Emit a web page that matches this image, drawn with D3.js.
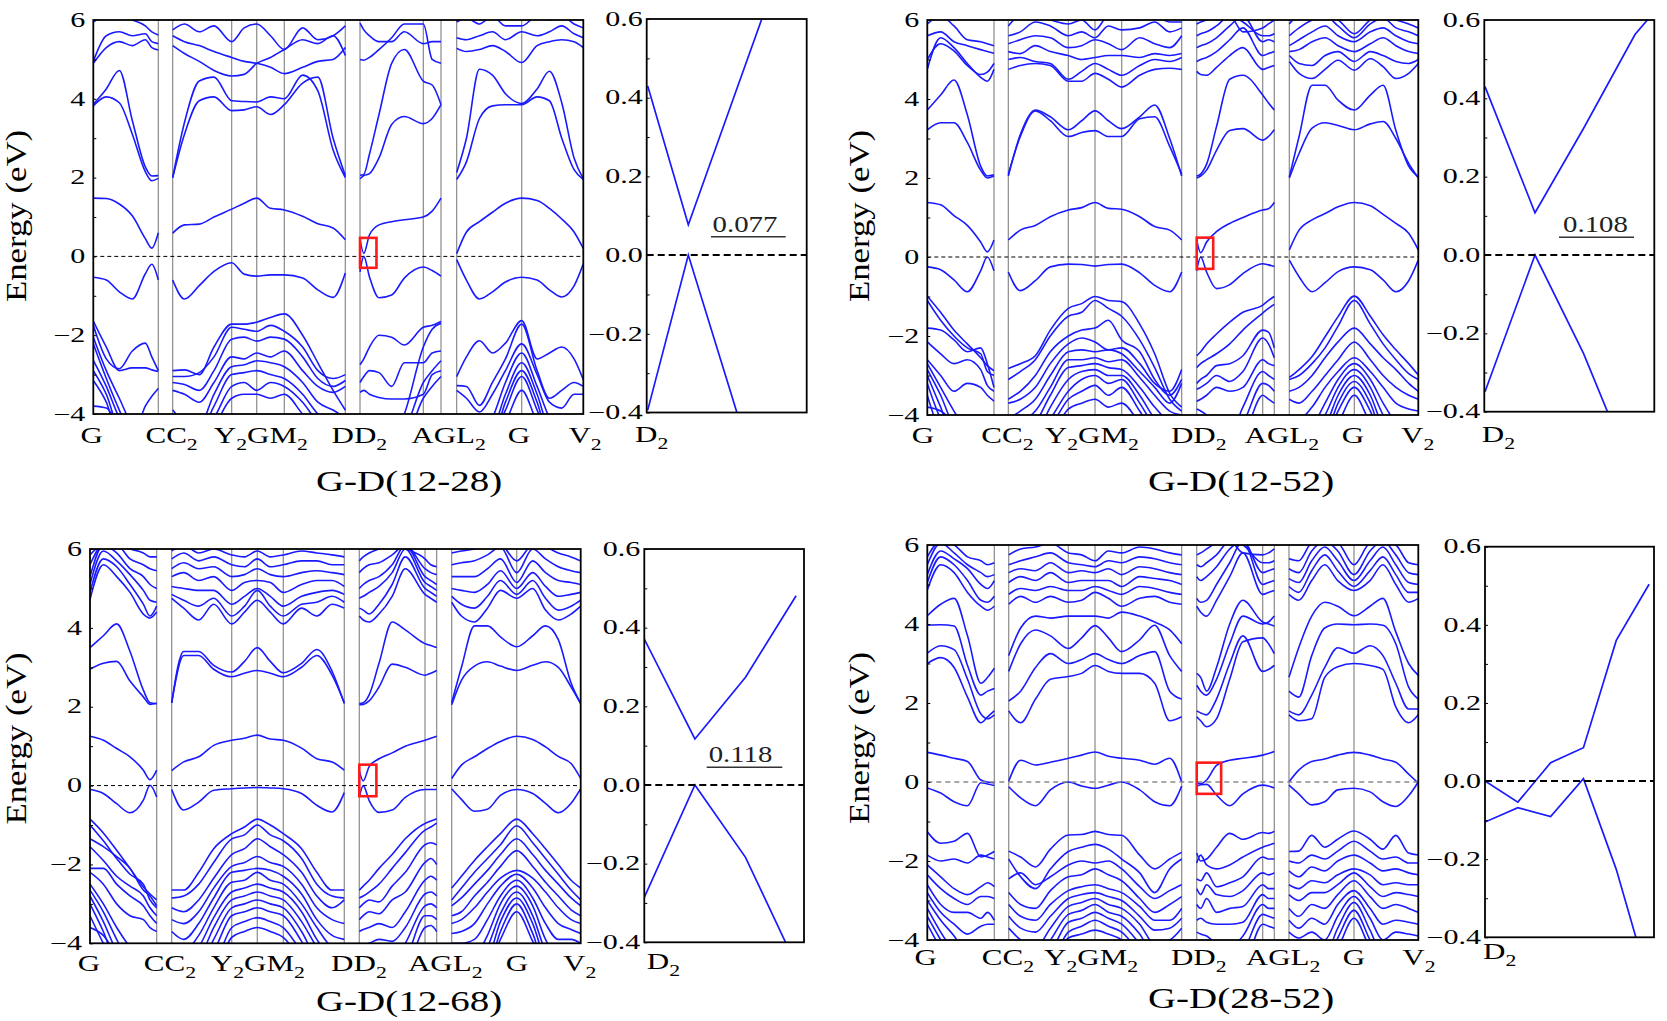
<!DOCTYPE html>
<html><head><meta charset="utf-8">
<script src="https://cdnjs.cloudflare.com/ajax/libs/d3/7.8.5/d3.min.js"></script>
<style>
html,body{margin:0;padding:0;background:#fff;}
svg{display:block;}
text{font-family:"Liberation Serif","DejaVu Serif",serif;fill:#000;}
</style></head>
<body><svg id="chart" width="1667" height="1021"></svg>
<script>
// ---------------- DATA ----------------
const titles = ["G-D(12-28)", "G-D(12-52)", "G-D(12-68)", "G-D(28-52)"];
const kLabels = ["G", "CC_2", "Y_2GM_2", "DD_2", "AGL_2", "G", "V_2"];
const gapValues = ["0.077", "0.108", "0.118", null];
const energyTicks = [-4, -3, -2, -1, 0, 1, 2, 3, 4, 5, 6];
const insetTicks = [-0.4, -0.3, -0.2, -0.1, 0, 0.1, 0.2, 0.3, 0.4, 0.5, 0.6];

// k-path distances of high-symmetry points (G C C2 Y2 G M2 D D2 A G L2 G V2)
const kPath1 = [0, 0.1327, 0.1620, 0.2824, 0.3335, 0.3898, 0.5143, 0.5443, 0.6735, 0.7096, 0.7416, 0.8743, 1];
const kPath2 = [0, 0.1358, 0.1650, 0.2872, 0.3416, 0.3959, 0.5181, 0.5487, 0.6831, 0.7067, 0.7373, 0.8697, 1];
const kPath3 = [0, 0.1359, 0.1665, 0.2888, 0.3409, 0.3939, 0.5182, 0.5488, 0.6827, 0.7065, 0.7371, 0.8696, 1];
const kPath4 = [0, 0.1365, 0.1658, 0.2872, 0.3416, 0.3959, 0.5181, 0.5487, 0.6831, 0.7067, 0.7366, 0.8690, 1];
const labelK1 = [-0.0035, 0.1598, 0.342, 0.543, 0.725, 0.8688, 1.0035];
const labelK2 = [-0.0088, 0.1633, 0.3351, 0.5528, 0.722, 0.867, 0.9986];
const labelK3 = [-0.002, 0.163, 0.342, 0.548, 0.724, 0.870, 0.998];
const labelK4 = [-0.003, 0.1643, 0.3336, 0.5528, 0.7246, 0.869, 1.0014];

// sampling positions along the path (in units of high-symmetry point index)
const gridA = [0, 0.2, 0.4, 0.6, 0.8, 0.9, 1];
const gridB = [2, 2.2, 2.45, 2.7, 3, 3.5, 4, 4.5, 5, 5.3, 5.55, 5.8, 6];
const gridC = [7, 7.06, 7.15, 7.3, 7.5, 7.7, 8, 8.5, 9];
const gridD = [10, 10.15, 10.35, 10.55, 10.75, 11, 11.25, 11.45, 11.65, 11.85, 12];

// ---- Panel 1: G-D(12-28) ----
const p1A = [
 [1.48, 1.47, 1.33, 1.03, 0.45, 0.21, 0.6],
 [-0.53, -0.6, -0.9, -1.08, -0.44, -0.2, -0.6],
 [3.86, 4.25, 4.72, 3.45, 2.27, 2.04, 2.05],
 [3.82, 4.05, 3.9, 3.1, 2.15, 1.92, 1.98],
 [4.95, 5.6, 5.7, 5.6, 5.65, 5.45, 5.4],
 [4.9, 5.3, 5.45, 5.35, 5.5, 5.3, 5.24],
 [5.95, 6.1, 6.1, 6.0, 5.85, 5.7, 5.62],
 [-1.64, -2.3, -2.9, -2.83, -2.83, -2.88, -2.92],
 [-1.75, -2.6, -2.85, -2.4, -2.2, -2.55, -2.9],
 [-2.05, -2.9, -3.6, -4.3, -4.6, -4.6, -4.6],
 [-2.22, -3.1, -3.9, -4.6, -4.6, -4.6, -4.6],
 [-2.64, -3.3, -4.1, -4.6, -4.6, -4.6, -4.6],
 [-2.9, -3.5, -4.4, -4.6, -4.6, -4.6, -4.6],
 [-3.15, -3.7, -4.6, -4.6, -4.6, -4.6, -4.6],
 [-3.8, -3.85, -4.3, -4.6, -4.6, -4.6, -4.6],
 [-4.6, -4.6, -4.6, -4.6, -3.8, -3.55, -3.35]
];
const p1B = [
 [0.59, 0.8, 0.82, 1.0, 1.2, 1.35, 1.48, 1.22, 1.18, 1.02, 0.83, 0.72, 0.42],
 [-0.6, -1.08, -0.74, -0.38, -0.16, -0.45, -0.5, -0.47, -0.47, -0.55, -0.85, -1.04, -0.42],
 [2.0, 3.4, 4.45, 4.55, 3.95, 3.93, 3.92, 4.05, 4.0, 4.6, 4.2, 2.7, 2.0],
 [2.0, 3.1, 3.95, 4.05, 3.7, 3.72, 3.8, 3.6, 3.85, 4.4, 4.55, 3.0, 2.05],
 [5.35, 5.15, 4.95, 4.72, 4.58, 4.62, 4.9, 5.05, 5.25, 5.5, 5.4, 5.6, 5.1],
 [5.6, 5.45, 5.35, 5.2, 5.05, 4.95, 4.9, 4.8, 4.64, 4.8, 4.95, 5.0, 5.3],
 [5.75, 5.9, 5.7, 5.85, 5.45, 5.8, 5.9, 5.6, 5.25, 5.8, 5.5, 5.6, 5.85],
 [-2.9, -2.88, -3.0, -2.3, -1.72, -1.72, -1.67, -1.55, -1.46, -2.0, -2.7, -3.4, -3.9],
 [-3.05, -3.05, -2.95, -2.55, -1.8, -1.85, -1.9, -1.75, -1.9, -2.3, -2.9, -3.1, -3.0],
 [-3.2, -3.25, -3.4, -2.9, -2.1, -2.05, -2.15, -2.05, -2.1, -2.55, -3.1, -3.3, -3.15],
 [-3.4, -3.5, -3.7, -3.2, -2.55, -2.6, -2.45, -2.55, -2.4, -2.9, -3.3, -3.45, -3.3],
 [-3.9, -4.2, -4.3, -3.5, -2.8, -2.75, -2.65, -2.7, -2.8, -3.2, -3.7, -3.9, -4.1],
 [-4.3, -4.4, -4.5, -3.8, -3.0, -2.95, -2.9, -3.0, -3.1, -3.5, -4.0, -4.3, -4.5],
 [-4.5, -4.5, -4.5, -4.1, -3.3, -3.2, -3.4, -3.2, -3.3, -3.7, -4.2, -4.4, -4.5],
 [-4.6, -4.6, -4.6, -4.3, -3.6, -3.5, -3.5, -3.6, -3.5, -4.0, -4.4, -4.5, -4.6]
];
const p1C = [
 [0.43, 0.077, 0.55, 0.8, 0.88, 0.93, 1.0, 1.15, 1.48],
 [-0.39, 0.0, -0.52, -1.05, -0.98, -0.55, -0.27, -0.36, -0.5],
 [2.06, 2.08, 2.6, 3.6, 4.9, 5.25, 4.45, 4.35, 3.85],
 [1.97, 2.05, 2.1, 2.5, 3.35, 3.55, 3.37, 3.5, 3.85],
 [5.0, 4.98, 5.05, 5.25, 5.55, 5.9, 5.9, 5.0, 4.9],
 [5.92, 5.75, 5.6, 5.45, 5.45, 5.7, 5.4, 5.45, 5.45],
 [-2.75, -2.6, -2.3, -2.0, -2.05, -2.25, -1.8, -1.75, -1.65],
 [-3.2, -3.05, -2.9, -2.95, -3.3, -2.7, -2.7, -2.45, -2.4],
 [-3.45, -3.4, -3.5, -3.58, -3.62, -3.62, -3.5, -3.0, -2.9],
 [-4.6, -4.6, -4.6, -4.6, -4.6, -4.0, -2.3, -1.85, -1.7],
 [-4.6, -4.6, -4.6, -4.6, -4.6, -4.4, -3.2, -2.9, -2.65],
 [-4.6, -4.6, -4.6, -4.6, -4.6, -4.6, -3.6, -3.3, -3.05]
];
const p1D = [
 [0.07, 0.62, 0.88, 1.12, 1.35, 1.48, 1.42, 1.22, 0.95, 0.62, 0.2],
 [-0.08, -0.6, -1.08, -0.9, -0.65, -0.53, -0.6, -0.85, -1.03, -0.75, -0.19],
 [2.13, 3.0, 4.75, 4.6, 4.13, 3.88, 4.25, 4.7, 3.9, 2.5, 1.97],
 [1.95, 2.4, 3.5, 3.82, 3.85, 3.85, 4.05, 3.95, 3.0, 2.2, 1.95],
 [5.28, 5.2, 5.25, 5.35, 5.2, 4.92, 5.35, 5.45, 5.5, 5.45, 5.3],
 [5.55, 5.5, 5.6, 5.7, 5.5, 5.7, 5.6, 5.7, 5.85, 5.65, 5.55],
 [5.95, 6.05, 5.9, 6.1, 5.85, 5.85, 6.1, 6.0, 6.1, 5.9, 5.8],
 [-3.05, -2.55, -2.14, -2.45, -2.2, -1.63, -2.6, -2.45, -2.3, -2.6, -3.13],
 [-3.28, -3.3, -3.78, -3.2, -2.6, -1.72, -2.9, -3.6, -3.4, -3.2, -3.3],
 [-3.4, -3.6, -3.95, -3.5, -2.9, -2.22, -3.0, -3.7, -3.85, -3.5, -3.5],
 [-4.6, -4.6, -4.6, -4.1, -3.2, -2.45, -3.3, -4.1, -4.6, -4.6, -4.6],
 [-4.6, -4.6, -4.6, -4.4, -3.5, -2.7, -3.5, -4.4, -4.6, -4.6, -4.6],
 [-4.6, -4.6, -4.6, -4.6, -3.7, -2.9, -3.7, -4.6, -4.6, -4.6, -4.6],
 [-4.6, -4.6, -4.6, -4.6, -3.9, -3.05, -3.9, -4.6, -4.6, -4.6, -4.6],
 [-4.6, -4.6, -4.6, -4.6, -4.2, -3.4, -4.2, -4.6, -4.6, -4.6, -4.6]
];

// ---- Panel 2: G-D(12-52) ----
const p2A = [
 [1.38, 1.32, 1.05, 0.8, 0.38, 0.13, 0.43],
 [-0.25, -0.32, -0.58, -0.88, -0.35, 0.0, -0.35],
 [3.72, 4.1, 4.48, 3.6, 2.3, 2.05, 2.08],
 [3.22, 3.4, 3.4, 2.9, 2.2, 2.0, 2.05],
 [4.75, 5.55, 5.3, 4.9, 4.55, 4.45, 4.75],
 [5.0, 5.4, 5.22, 4.85, 4.62, 4.68, 4.9],
 [5.6, 5.7, 5.45, 5.35, 5.25, 5.2, 5.16],
 [5.9, 6.1, 5.85, 5.5, 5.45, 5.4, 5.35],
 [-0.99, -1.4, -1.85, -2.2, -2.55, -2.75, -2.88],
 [-1.1, -1.6, -2.0, -2.3, -2.45, -2.9, -3.0],
 [-1.8, -1.85, -2.1, -2.4, -2.3, -2.7, -3.3],
 [-2.15, -2.45, -2.7, -2.6, -2.85, -3.25, -3.4],
 [-2.6, -3.0, -3.4, -3.2, -3.3, -3.5, -3.65],
 [-2.7, -3.3, -3.9, -4.4, -4.6, -4.6, -4.6],
 [-2.85, -3.5, -4.3, -4.6, -4.6, -4.6, -4.6],
 [-3.0, -3.8, -4.6, -4.6, -4.6, -4.6, -4.6],
 [-3.2, -4.1, -4.6, -4.6, -4.6, -4.6, -4.6],
 [-3.5, -4.4, -4.6, -4.6, -4.6, -4.6, -4.6],
 [-3.8, -3.9, -4.2, -4.6, -4.6, -4.6, -4.6]
];
const p2B = [
 [0.43, 0.68, 0.8, 1.02, 1.19, 1.25, 1.38, 1.23, 1.21, 1.02, 0.77, 0.68, 0.43],
 [-0.38, -0.85, -0.6, -0.25, -0.18, -0.19, -0.23, -0.19, -0.18, -0.4, -0.72, -0.88, -0.38],
 [2.05, 3.1, 3.72, 3.55, 3.22, 3.45, 3.7, 3.45, 3.25, 3.55, 3.85, 3.0, 2.05],
 [2.1, 3.05, 3.7, 3.45, 3.05, 3.15, 3.2, 3.05, 3.05, 3.5, 3.55, 2.8, 2.1],
 [4.75, 4.85, 4.9, 4.85, 4.45, 4.45, 4.65, 4.5, 4.3, 4.6, 4.75, 4.78, 4.75],
 [5.0, 5.05, 4.95, 4.9, 4.5, 4.7, 4.9, 4.75, 4.6, 4.85, 5.0, 4.95, 5.05],
 [5.2, 5.15, 5.35, 5.2, 5.1, 5.0, 5.05, 5.1, 5.1, 5.05, 5.15, 5.1, 5.15],
 [5.4, 5.5, 5.6, 5.55, 5.3, 5.35, 5.5, 5.4, 5.25, 5.55, 5.4, 5.3, 5.6],
 [5.6, 5.7, 5.95, 5.85, 5.6, 5.7, 5.55, 5.85, 5.75, 5.8, 5.95, 5.7, 5.8],
 [5.85, 6.1, 6.1, 6.0, 5.9, 6.0, 5.75, 6.1, 6.0, 6.0, 6.1, 5.95, 5.95],
 [-2.82, -2.7, -2.5, -1.85, -1.3, -1.18, -1.0, -1.1, -1.13, -1.7, -2.45, -3.45, -3.8],
 [-3.1, -2.9, -2.6, -2.0, -1.5, -1.4, -1.1, -1.3, -1.5, -2.1, -2.8, -3.6, -3.9],
 [-3.6, -3.4, -3.0, -2.4, -2.0, -1.85, -1.8, -1.6, -2.1, -2.4, -3.1, -3.5, -3.1],
 [-3.7, -3.6, -3.3, -2.7, -2.2, -2.05, -2.15, -2.35, -2.3, -2.7, -3.2, -3.4, -2.85],
 [-4.1, -3.9, -3.6, -3.0, -2.4, -2.35, -2.4, -2.35, -2.45, -2.9, -3.3, -3.7, -3.2],
 [-4.4, -4.2, -3.9, -3.3, -2.6, -2.6, -2.55, -2.65, -2.6, -3.05, -3.5, -3.9, -4.0],
 [-4.6, -4.5, -4.2, -3.5, -2.8, -2.75, -2.7, -2.8, -2.85, -3.3, -3.8, -4.2, -4.4],
 [-4.6, -4.6, -4.5, -3.8, -3.1, -2.9, -2.85, -3.0, -3.0, -3.5, -4.1, -4.5, -4.6],
 [-4.6, -4.6, -4.6, -4.1, -3.4, -3.1, -3.0, -3.2, -3.1, -3.7, -4.3, -4.6, -4.6],
 [-4.6, -4.6, -4.6, -4.3, -3.6, -3.4, -3.25, -3.5, -3.3, -3.9, -4.5, -4.6, -4.6],
 [-4.6, -4.6, -4.6, -4.5, -3.85, -3.7, -3.6, -3.8, -3.7, -4.2, -4.6, -4.6, -4.6]
];
const p2C = [
 [0.43, 0.108, 0.38, 0.64, 0.85, 1.0, 1.19, 1.22, 1.38],
 [-0.35, 0.0, -0.38, -0.8, -0.7, -0.42, -0.17, -0.2, -0.24],
 [2.05, 2.1, 2.35, 3.3, 4.5, 4.6, 4.1, 3.9, 3.72],
 [2.0, 2.05, 2.2, 2.7, 3.2, 3.25, 2.96, 3.05, 3.22],
 [4.7, 4.62, 4.6, 4.8, 5.1, 5.3, 4.75, 4.8, 4.85],
 [4.95, 5.0, 5.05, 5.2, 5.5, 5.8, 5.1, 5.15, 5.2],
 [5.3, 5.35, 5.4, 5.55, 5.85, 6.1, 5.45, 5.5, 5.45],
 [5.6, 5.65, 5.7, 5.85, 6.1, 5.95, 5.6, 5.6, 5.65],
 [5.9, 5.95, 6.0, 6.1, 6.1, 5.7, 5.8, 5.9, 6.0],
 [-2.5, -2.4, -2.2, -1.95, -1.65, -1.4, -1.22, -1.1, -1.0],
 [-2.8, -2.7, -2.6, -2.45, -2.2, -1.85, -1.42, -1.3, -1.2],
 [-3.2, -3.1, -3.0, -2.75, -2.7, -2.5, -1.85, -1.9, -2.3],
 [-3.35, -3.3, -3.2, -3.0, -3.15, -2.9, -2.05, -2.2, -2.55],
 [-3.65, -3.6, -3.5, -3.3, -3.4, -3.3, -2.6, -2.7, -2.75],
 [-3.85, -3.9, -4.0, -4.3, -4.5, -3.8, -2.9, -3.0, -3.1],
 [-4.5, -4.5, -4.5, -4.5, -4.5, -4.2, -3.2, -3.25, -3.4],
 [-4.6, -4.6, -4.6, -4.6, -4.6, -4.5, -3.5, -3.6, -3.7]
];
const p2D = [
 [0.18, 0.68, 0.94, 1.1, 1.27, 1.38, 1.3, 1.08, 0.85, 0.6, 0.18],
 [-0.08, -0.5, -0.88, -0.65, -0.37, -0.25, -0.32, -0.58, -0.88, -0.6, -0.08],
 [2.03, 3.05, 4.35, 4.35, 3.97, 3.72, 4.1, 4.35, 3.2, 2.3, 2.03],
 [2.0, 2.62, 3.26, 3.4, 3.33, 3.22, 3.37, 3.43, 3.0, 2.37, 2.0],
 [4.95, 4.65, 4.52, 4.75, 4.98, 4.73, 5.02, 4.82, 4.52, 4.65, 4.9],
 [5.1, 4.9, 4.85, 5.1, 5.2, 4.95, 5.2, 5.1, 4.95, 4.9, 5.0],
 [5.2, 5.25, 5.45, 5.55, 5.35, 5.2, 5.4, 5.55, 5.35, 5.2, 5.15],
 [5.35, 5.5, 5.7, 5.85, 5.6, 5.45, 5.7, 5.8, 5.6, 5.45, 5.4],
 [5.6, 5.8, 6.0, 6.1, 5.85, 5.55, 5.9, 6.05, 5.8, 5.7, 5.6],
 [5.9, 6.1, 6.1, 6.1, 6.0, 5.65, 6.0, 6.1, 6.0, 5.9, 5.8],
 [-3.05, -2.85, -2.52, -2.02, -1.51, -0.99, -1.5, -1.97, -2.35, -2.7, -2.99],
 [-3.1, -3.0, -2.7, -2.3, -1.75, -1.1, -1.7, -2.2, -2.6, -2.95, -3.1],
 [-3.4, -3.3, -3.0, -2.55, -2.15, -1.8, -2.2, -2.55, -2.85, -3.2, -3.4],
 [-3.6, -3.7, -3.4, -3.0, -2.6, -2.15, -2.6, -3.0, -3.3, -3.5, -3.6],
 [-4.0, -4.1, -3.8, -3.3, -2.9, -2.55, -2.9, -3.3, -3.7, -3.85, -3.9],
 [-4.5, -4.5, -4.3, -3.7, -3.1, -2.7, -3.1, -3.7, -4.2, -4.5, -4.5],
 [-4.6, -4.6, -4.5, -4.0, -3.3, -2.85, -3.3, -4.0, -4.5, -4.6, -4.6],
 [-4.6, -4.6, -4.6, -4.3, -3.5, -3.0, -3.5, -4.3, -4.6, -4.6, -4.6],
 [-4.6, -4.6, -4.6, -4.5, -3.7, -3.15, -3.7, -4.5, -4.6, -4.6, -4.6],
 [-4.6, -4.6, -4.6, -4.6, -3.9, -3.3, -3.9, -4.6, -4.6, -4.6, -4.6],
 [-4.6, -4.6, -4.6, -4.6, -4.2, -3.5, -4.2, -4.6, -4.6, -4.6, -4.6]
];

// ---- Panel 3: G-D(12-68) ----
const p3A = [
 [1.25, 1.15, 0.94, 0.73, 0.39, 0.15, 0.39],
 [-0.1, -0.2, -0.46, -0.69, -0.37, 0.01, -0.29],
 [3.5, 3.8, 4.1, 3.4, 2.42, 2.1, 2.08],
 [2.95, 3.1, 3.15, 2.65, 2.25, 2.06, 2.08],
 [4.72, 5.6, 5.3, 4.9, 4.35, 4.25, 4.4],
 [4.9, 5.75, 5.55, 5.1, 4.6, 4.3, 4.55],
 [5.1, 5.95, 5.7, 5.35, 4.95, 4.7, 4.65],
 [5.3, 6.1, 5.9, 5.5, 5.3, 5.1, 5.0],
 [5.6, 6.1, 6.1, 5.75, 5.6, 5.5, 5.45],
 [5.85, 6.1, 6.1, 6.0, 5.9, 5.8, 5.8],
 [-0.85, -1.2, -1.64, -2.1, -2.57, -2.75, -2.9],
 [-1.0, -1.4, -1.85, -2.25, -2.5, -2.9, -3.1],
 [-1.35, -1.55, -1.8, -2.1, -2.65, -2.8, -3.05],
 [-1.55, -1.9, -2.3, -2.55, -2.8, -3.1, -3.3],
 [-2.1, -2.1, -2.5, -2.8, -3.05, -3.3, -3.5],
 [-2.2, -2.5, -3.0, -3.3, -3.4, -3.6, -3.7],
 [-2.5, -3.0, -3.6, -4.1, -4.5, -4.6, -4.6],
 [-2.65, -3.2, -3.9, -4.5, -4.6, -4.6, -4.6],
 [-2.8, -3.45, -4.2, -4.6, -4.6, -4.6, -4.6],
 [-3.0, -3.7, -4.5, -4.6, -4.6, -4.6, -4.6],
 [-3.3, -4.0, -4.6, -4.6, -4.6, -4.6, -4.6],
 [-3.6, -3.8, -4.3, -4.6, -4.6, -4.6, -4.6]
];
const p3B = [
 [0.38, 0.6, 0.73, 1.02, 1.15, 1.2, 1.28, 1.18, 1.15, 0.95, 0.68, 0.6, 0.39],
 [-0.1, -0.62, -0.42, -0.12, -0.08, -0.06, -0.05, -0.06, -0.08, -0.2, -0.5, -0.67, -0.18],
 [2.1, 3.4, 3.4, 3.05, 2.88, 3.15, 3.5, 3.15, 2.86, 3.1, 3.45, 2.9, 2.08],
 [2.1, 3.3, 3.3, 2.95, 2.76, 2.85, 2.92, 2.85, 2.76, 3.0, 3.3, 2.8, 2.1],
 [4.75, 4.5, 4.2, 4.6, 4.1, 4.4, 4.7, 4.4, 4.1, 4.5, 4.3, 4.6, 4.5],
 [4.85, 4.7, 4.55, 4.75, 4.3, 4.55, 4.95, 4.55, 4.3, 4.6, 4.65, 4.8, 4.65],
 [5.05, 5.0, 4.95, 4.95, 4.6, 4.8, 5.0, 4.8, 4.55, 4.8, 4.9, 4.95, 4.85],
 [5.3, 5.4, 5.2, 5.3, 4.95, 5.15, 5.2, 5.15, 4.9, 5.1, 5.2, 5.2, 5.05],
 [5.5, 5.65, 5.5, 5.55, 5.3, 5.35, 5.5, 5.35, 5.3, 5.4, 5.45, 5.4, 5.35],
 [5.75, 5.9, 5.7, 5.8, 5.6, 5.55, 5.75, 5.55, 5.6, 5.7, 5.7, 5.6, 5.6],
 [5.95, 6.1, 5.9, 6.0, 5.85, 5.8, 5.95, 5.8, 5.85, 5.95, 5.9, 5.85, 5.8],
 [-2.65, -2.65, -2.2, -1.6, -1.22, -1.05, -0.85, -1.0, -1.22, -1.6, -2.2, -2.65, -2.65],
 [-2.85, -2.8, -2.5, -1.95, -1.35, -1.25, -1.0, -1.25, -1.4, -1.85, -2.5, -2.8, -2.85],
 [-3.1, -3.2, -2.9, -2.35, -1.75, -1.6, -1.35, -1.55, -1.75, -2.2, -2.8, -3.1, -2.9],
 [-3.4, -3.5, -3.2, -2.6, -2.05, -1.95, -1.8, -1.95, -2.05, -2.5, -3.1, -3.4, -3.5],
 [-3.7, -3.9, -3.5, -2.85, -2.2, -2.15, -2.1, -2.15, -2.3, -2.75, -3.4, -3.8, -3.9],
 [-4.0, -4.2, -3.8, -3.1, -2.45, -2.4, -2.2, -2.4, -2.5, -3.0, -3.6, -4.1, -4.2],
 [-4.3, -4.5, -4.1, -3.35, -2.7, -2.6, -2.5, -2.6, -2.7, -3.2, -3.9, -4.4, -4.5],
 [-4.5, -4.6, -4.4, -3.6, -2.9, -2.8, -2.7, -2.8, -2.9, -3.45, -4.1, -4.6, -4.6],
 [-4.6, -4.6, -4.6, -3.9, -3.1, -3.0, -2.9, -3.0, -3.1, -3.7, -4.4, -4.6, -4.6],
 [-4.6, -4.6, -4.6, -4.2, -3.3, -3.2, -3.1, -3.2, -3.3, -3.95, -4.6, -4.6, -4.6],
 [-4.6, -4.6, -4.6, -4.5, -3.6, -3.45, -3.35, -3.45, -3.6, -4.2, -4.6, -4.6, -4.6],
 [-4.6, -4.6, -4.6, -4.6, -3.85, -3.7, -3.6, -3.7, -3.85, -4.4, -4.6, -4.6, -4.6]
];
const p3C = [
 [0.37, 0.118, 0.48, 0.68, 0.83, 1.0, 1.15, 1.2, 1.25],
 [-0.29, 0.0, -0.38, -0.68, -0.62, -0.3, -0.1, -0.1, -0.1],
 [2.08, 2.1, 2.3, 3.1, 4.15, 3.95, 3.6, 3.55, 3.5],
 [2.05, 2.06, 2.15, 2.5, 3.08, 3.0, 2.8, 2.85, 2.92],
 [4.3, 4.2, 4.15, 4.35, 4.8, 5.5, 4.85, 4.75, 4.65],
 [4.5, 4.45, 4.35, 4.6, 5.1, 5.8, 5.0, 4.9, 4.8],
 [4.75, 4.8, 4.9, 5.05, 5.4, 6.0, 5.15, 5.05, 4.95],
 [5.0, 5.1, 5.2, 5.3, 5.6, 6.1, 5.3, 5.2, 5.1],
 [5.4, 5.5, 5.6, 5.65, 5.85, 6.1, 5.5, 5.4, 5.35],
 [5.7, 5.8, 5.9, 6.0, 6.1, 6.0, 5.75, 5.6, 5.55],
 [-2.65, -2.55, -2.4, -2.1, -1.75, -1.35, -0.96, -0.9, -0.84],
 [-2.85, -2.8, -2.7, -2.5, -2.1, -1.7, -1.13, -1.05, -0.95],
 [-3.1, -3.0, -2.9, -2.95, -2.55, -2.2, -1.5, -1.45, -1.5],
 [-3.4, -3.3, -3.2, -3.25, -2.9, -2.7, -1.95, -1.85, -2.0],
 [-3.7, -3.65, -3.6, -3.5, -3.6, -3.2, -2.4, -2.3, -2.4],
 [-4.0, -4.05, -4.0, -3.9, -3.95, -3.6, -2.75, -2.7, -2.8],
 [-4.5, -4.5, -4.4, -4.3, -4.5, -4.0, -3.05, -3.0, -3.1],
 [-4.6, -4.6, -4.6, -4.6, -4.6, -4.4, -3.3, -3.3, -3.4],
 [-4.6, -4.6, -4.6, -4.6, -4.6, -4.6, -3.6, -3.55, -3.7]
];
const p3D = [
 [0.18, 0.52, 0.73, 0.94, 1.12, 1.25, 1.17, 0.98, 0.74, 0.56, 0.18],
 [-0.08, -0.35, -0.65, -0.6, -0.25, -0.1, -0.2, -0.45, -0.69, -0.45, -0.08],
 [2.1, 3.0, 4.05, 4.05, 3.77, 3.52, 3.8, 4.05, 3.7, 2.6, 2.08],
 [2.05, 2.67, 3.03, 3.14, 3.03, 2.92, 3.05, 3.14, 3.0, 2.5, 2.08],
 [4.65, 4.3, 4.15, 4.5, 4.95, 4.75, 5.0, 4.45, 4.2, 4.35, 4.55],
 [4.8, 4.6, 4.5, 4.8, 5.2, 4.85, 5.2, 4.75, 4.45, 4.55, 4.7],
 [5.0, 4.95, 4.9, 5.1, 5.45, 5.0, 5.4, 5.05, 4.8, 4.85, 4.9],
 [5.3, 5.3, 5.3, 5.5, 5.75, 5.15, 5.7, 5.4, 5.2, 5.15, 5.1],
 [5.6, 5.65, 5.7, 5.85, 6.05, 5.4, 6.0, 5.75, 5.55, 5.45, 5.4],
 [5.9, 5.95, 6.0, 6.1, 6.1, 5.7, 6.1, 6.05, 5.9, 5.8, 5.7],
 [-2.6, -2.3, -1.9, -1.55, -1.22, -0.85, -1.22, -1.6, -2.0, -2.4, -2.6],
 [-2.9, -2.6, -2.2, -1.85, -1.5, -1.02, -1.45, -1.85, -2.25, -2.65, -2.9],
 [-3.05, -2.85, -2.5, -2.15, -1.75, -1.35, -1.75, -2.15, -2.5, -2.85, -3.05],
 [-3.3, -3.2, -2.8, -2.45, -2.05, -1.65, -2.05, -2.45, -2.8, -3.15, -3.3],
 [-3.5, -3.4, -3.1, -2.7, -2.35, -2.15, -2.35, -2.7, -3.1, -3.4, -3.5],
 [-3.75, -3.7, -3.5, -3.0, -2.55, -2.25, -2.6, -3.1, -3.5, -3.65, -3.75],
 [-4.0, -4.0, -3.9, -3.4, -2.8, -2.4, -2.85, -3.5, -3.9, -3.9, -4.0],
 [-4.6, -4.6, -4.4, -3.8, -3.0, -2.55, -3.05, -3.9, -4.4, -4.6, -4.6],
 [-4.6, -4.6, -4.6, -4.1, -3.25, -2.7, -3.3, -4.2, -4.6, -4.6, -4.6],
 [-4.6, -4.6, -4.6, -4.4, -3.45, -2.85, -3.5, -4.4, -4.6, -4.6, -4.6],
 [-4.6, -4.6, -4.6, -4.6, -3.7, -3.0, -3.75, -4.6, -4.6, -4.6, -4.6],
 [-4.6, -4.6, -4.6, -4.6, -3.9, -3.2, -3.95, -4.6, -4.6, -4.6, -4.6]
];

// ---- Panel 4: G-D(28-52) ----
const p4A = [
 [0.75, 0.68, 0.6, 0.52, 0.05, 0.0, -0.02],
 [-0.15, -0.28, -0.5, -0.6, -0.02, -0.05, -0.09],
 [3.0, 3.15, 2.9, 2.15, 1.5, 1.65, 1.8],
 [3.26, 3.45, 3.35, 2.6, 1.72, 1.6, 1.7],
 [3.97, 3.98, 3.95, 2.95, 2.2, 2.3, 2.37],
 [4.21, 4.5, 4.65, 3.7, 2.5, 2.65, 2.88],
 [4.86, 5.5, 5.3, 4.8, 4.45, 4.35, 4.45],
 [5.05, 5.7, 5.5, 5.1, 4.6, 4.55, 4.7],
 [5.25, 5.85, 5.65, 5.4, 5.0, 4.9, 5.1],
 [5.5, 6.05, 5.8, 5.5, 5.3, 5.2, 5.25],
 [5.7, 6.1, 6.0, 5.7, 5.6, 5.5, 5.55],
 [-1.26, -1.55, -1.5, -1.3, -1.9, -1.85, -1.76],
 [-1.85, -2.0, -1.95, -2.05, -1.85, -1.9, -1.95],
 [-2.1, -2.4, -2.7, -2.85, -2.65, -2.55, -2.65],
 [-2.35, -2.7, -2.95, -3.1, -2.9, -2.9, -2.95],
 [-2.6, -3.1, -3.3, -3.3, -3.45, -3.3, -3.5],
 [-2.8, -3.3, -3.6, -3.85, -3.65, -3.6, -3.6],
 [-3.0, -3.5, -3.9, -4.4, -4.5, -4.5, -4.5],
 [-3.2, -3.8, -4.3, -4.6, -4.6, -4.6, -4.6],
 [-3.4, -4.0, -4.6, -4.6, -4.6, -4.6, -4.6],
 [-3.6, -4.2, -4.6, -4.6, -4.6, -4.6, -4.6]
];
const p4B = [
 [0.02, 0.55, 0.43, 0.5, 0.6, 0.68, 0.76, 0.65, 0.6, 0.55, 0.45, 0.6, 0.0],
 [-0.12, -0.4, -0.6, -0.2, 0.0, -0.1, -0.16, -0.08, 0.0, -0.2, -0.5, -0.6, -0.1],
 [1.8, 1.5, 2.1, 2.6, 2.67, 2.75, 2.95, 2.8, 2.75, 2.75, 2.5, 1.55, 1.65],
 [2.05, 2.3, 2.9, 3.25, 3.0, 3.1, 3.25, 3.1, 3.0, 3.2, 3.3, 2.3, 2.1],
 [2.8, 3.5, 3.85, 3.7, 3.38, 3.65, 3.96, 3.65, 3.3, 3.6, 3.97, 3.2, 2.8],
 [3.2, 3.9, 4.2, 4.15, 4.2, 4.2, 4.2, 4.15, 4.3, 4.2, 4.05, 3.85, 3.5],
 [4.5, 4.7, 4.55, 4.7, 4.55, 4.6, 4.8, 4.65, 4.45, 4.65, 4.7, 4.55, 4.5],
 [4.75, 4.9, 4.85, 4.95, 4.85, 4.85, 4.95, 4.85, 4.75, 4.95, 4.9, 4.8, 4.75],
 [5.05, 5.2, 5.1, 5.3, 5.05, 5.1, 5.1, 5.1, 4.95, 5.2, 5.15, 5.1, 5.0],
 [5.3, 5.4, 5.35, 5.55, 5.3, 5.35, 5.3, 5.4, 5.25, 5.45, 5.4, 5.3, 5.25],
 [5.5, 5.6, 5.7, 5.8, 5.55, 5.5, 5.45, 5.6, 5.55, 5.7, 5.65, 5.55, 5.5],
 [5.75, 5.9, 5.95, 6.05, 5.8, 5.75, 5.6, 5.85, 5.8, 5.95, 5.9, 5.8, 5.75],
 [-1.75, -1.9, -2.15, -1.7, -1.34, -1.33, -1.25, -1.33, -1.35, -1.85, -2.2, -1.95, -1.78],
 [-1.95, -2.4, -2.7, -2.2, -1.76, -1.65, -1.58, -1.7, -1.95, -2.3, -2.8, -2.2, -1.95],
 [-2.45, -2.3, -2.6, -2.4, -2.1, -2.0, -2.05, -2.0, -2.2, -2.65, -2.95, -2.75, -2.6],
 [-2.8, -3.1, -3.2, -2.75, -2.4, -2.35, -2.2, -2.35, -2.5, -2.95, -3.3, -3.1, -2.9],
 [-3.1, -3.4, -3.5, -3.1, -2.75, -2.65, -2.6, -2.7, -2.8, -3.15, -3.5, -3.5, -3.2],
 [-3.4, -3.7, -3.8, -3.4, -2.95, -2.85, -2.8, -2.9, -3.0, -3.4, -3.75, -3.7, -3.45],
 [-3.7, -4.0, -4.2, -3.7, -3.15, -3.05, -2.95, -3.1, -3.2, -3.6, -4.1, -4.0, -3.7],
 [-4.0, -4.3, -4.5, -4.0, -3.35, -3.25, -3.1, -3.3, -3.4, -3.85, -4.4, -4.3, -4.0],
 [-4.5, -4.6, -4.6, -4.3, -3.55, -3.45, -3.3, -3.45, -3.6, -4.1, -4.6, -4.6, -4.5],
 [-4.6, -4.6, -4.6, -4.5, -3.8, -3.65, -3.5, -3.65, -3.8, -4.3, -4.6, -4.6, -4.6],
 [-4.6, -4.6, -4.6, -4.6, -3.95, -3.85, -3.75, -3.85, -4.0, -4.5, -4.6, -4.6, -4.6]
];
const p4C = [
 [0.0, -0.045, 0.05, 0.42, 0.55, 0.6, 0.68, 0.72, 0.77],
 [-0.105, -0.07, -0.06, -0.33, -0.6, -0.3, -0.08, -0.1, -0.15],
 [1.65, 1.55, 1.4, 1.6, 2.6, 3.55, 3.65, 3.5, 3.25],
 [1.8, 1.75, 1.7, 2.1, 3.0, 3.7, 2.8, 2.85, 2.95],
 [2.45, 2.3, 2.2, 2.6, 3.5, 4.2, 4.0, 4.05, 4.2],
 [2.75, 2.65, 2.3, 2.9, 4.0, 4.6, 4.05, 4.0, 3.95],
 [4.45, 4.3, 4.2, 4.6, 5.2, 5.8, 4.75, 4.8, 4.85],
 [4.65, 4.55, 4.6, 5.0, 5.55, 6.1, 5.0, 5.05, 5.1],
 [5.2, 5.1, 5.2, 5.45, 5.9, 6.1, 5.3, 5.35, 5.4],
 [5.5, 5.45, 5.55, 5.75, 6.1, 6.0, 5.55, 5.55, 5.6],
 [5.75, 5.8, 5.9, 6.05, 6.1, 5.8, 5.75, 5.8, 5.9],
 [-1.8, -2.0, -1.95, -1.65, -1.3, -1.45, -1.28, -1.3, -1.25],
 [-2.05, -1.85, -2.1, -2.2, -2.1, -1.9, -1.65, -1.6, -1.55],
 [-2.45, -2.5, -2.3, -2.65, -2.55, -2.4, -1.9, -1.95, -1.95],
 [-2.7, -2.85, -2.6, -2.85, -2.9, -2.75, -2.3, -2.35, -2.3],
 [-3.1, -3.2, -2.95, -3.3, -3.2, -3.15, -2.6, -2.7, -2.7],
 [-3.5, -3.45, -3.55, -3.6, -3.6, -3.55, -2.85, -2.95, -2.95],
 [-3.8, -3.85, -3.9, -4.1, -4.2, -3.9, -3.1, -3.2, -3.2],
 [-4.5, -4.5, -4.5, -4.5, -4.6, -4.3, -3.35, -3.4, -3.45],
 [-4.6, -4.6, -4.6, -4.6, -4.6, -4.6, -3.6, -3.65, -3.7]
];
const p4D = [
 [0.0, 0.3, 0.52, 0.58, 0.68, 0.75, 0.68, 0.58, 0.5, 0.2, -0.03],
 [-0.08, -0.3, -0.58, -0.5, -0.2, -0.16, -0.25, -0.5, -0.62, -0.35, 0.0],
 [1.7, 1.55, 1.6, 2.65, 2.92, 3.0, 2.95, 2.85, 1.9, 1.5, 1.7],
 [1.8, 1.7, 2.2, 2.9, 3.4, 3.26, 3.45, 3.2, 2.5, 1.85, 1.85],
 [2.3, 2.15, 3.2, 3.9, 4.0, 3.98, 4.0, 3.97, 3.5, 2.4, 2.1],
 [2.65, 3.4, 4.2, 4.55, 4.45, 4.21, 4.45, 4.65, 3.8, 3.0, 2.7],
 [4.75, 4.6, 5.1, 5.5, 5.1, 4.85, 5.1, 5.5, 5.0, 4.55, 4.65],
 [4.95, 4.8, 5.35, 5.75, 5.35, 4.95, 5.35, 5.7, 5.25, 4.8, 4.8],
 [5.15, 5.05, 5.6, 5.95, 5.6, 5.1, 5.6, 5.95, 5.5, 5.05, 5.0],
 [5.4, 5.3, 5.85, 6.1, 5.85, 5.25, 5.85, 6.1, 5.75, 5.3, 5.25],
 [5.65, 5.6, 6.05, 6.1, 6.05, 5.5, 6.05, 6.1, 6.0, 5.55, 5.5],
 [-1.76, -1.75, -1.35, -1.65, -1.45, -1.24, -1.45, -1.7, -1.35, -1.8, -1.85],
 [-2.0, -2.05, -1.85, -1.95, -1.75, -1.5, -1.75, -1.95, -1.9, -2.05, -2.05],
 [-2.25, -2.4, -2.15, -2.25, -2.0, -1.85, -2.05, -2.25, -2.2, -2.3, -2.35],
 [-2.6, -2.7, -2.5, -2.55, -2.35, -2.2, -2.35, -2.6, -2.55, -2.6, -2.6],
 [-2.85, -3.0, -2.8, -2.8, -2.6, -2.3, -2.65, -2.9, -2.8, -2.85, -2.9],
 [-3.2, -3.4, -3.1, -3.2, -2.85, -2.5, -2.9, -3.2, -3.1, -3.2, -3.3],
 [-3.5, -3.7, -3.45, -3.6, -3.1, -2.75, -3.2, -3.6, -3.5, -3.55, -3.6],
 [-3.8, -3.95, -3.8, -4.0, -3.4, -2.9, -3.45, -4.0, -3.8, -3.85, -3.9],
 [-4.5, -4.6, -4.3, -4.4, -3.7, -3.05, -3.75, -4.4, -4.3, -4.5, -4.5],
 [-4.6, -4.6, -4.6, -4.6, -3.95, -3.25, -4.0, -4.6, -4.6, -4.6, -4.6],
 [-4.6, -4.6, -4.6, -4.6, -4.2, -3.45, -4.2, -4.6, -4.6, -4.6, -4.6]
];

// ---- zoomed insets around D2 ----
const insK1 = [0, 1, 2, 3];
const ins1Upper = [0.43, 0.077, 0.366, 0.655];
const ins1Lower = [-0.394, 0.0, -0.334, -0.67];
const insK2 = [0, 1, 1.97, 3, 4];
const ins2Upper = [0.43, 0.108, 0.323, 0.563, 0.713];
const ins2Lower = [-0.349, 0.0, -0.251, -0.571, -0.89];
const insK3 = [0, 1, 2, 3];
const ins3Upper = [0.371, 0.117, 0.274, 0.481];
const ins3Lower = [-0.286, 0.0, -0.184, -0.457];
const insK4 = [0, 1, 2, 3, 4, 5];
const ins4Upper = [0.0, -0.054, 0.047, 0.0855, 0.36, 0.504];
const ins4Lower = [-0.105, -0.068, -0.091, 0.006, -0.226, -0.517];
const insDomain1 = [-0.025, 3.916];
const insDomain2 = [-0.014, 3.386];
const insDomain3 = [0, 3.156];
const insDomain4 = [0, 5.15];
// zoom window marked in main panels: [k-index from, k-index to, E min, E max]
const zoomBox1 = [7, 7.26, -0.29, 0.47];
const zoomBox2 = [7, 7.25, -0.30, 0.49];
const zoomBox3 = [7, 7.26, -0.27, 0.53];
const zoomBox4 = [7, 7.37, -0.30, 0.49];

// ---------------- LAYOUT ----------------
const layouts = [
 {mx0: 93.3, mx1: 583.3, my0: 20, my1: 414, ix0: 646.7, ix1: 806.7, iy0: 19, iy1: 412.5,
  xlabY: 443, titleX: 409, titleY: 491, ylabX: 26, ylabY: 216, d2X: 635, d2Y: 442,
  gapX: 745, gapY: 231.5, gl0: 711, gl1: 785.7, glY: 236.7, zeroColor: "#000", zeroW: 1, zeroDash: "4,3"},
 {mx0: 927.3, mx1: 1418.3, my0: 20, my1: 415, ix0: 1484.3, ix1: 1654.3, iy0: 20, iy1: 411.7,
  xlabY: 443, titleX: 1241, titleY: 491, ylabX: 869, ylabY: 216, d2X: 1481.7, d2Y: 442,
  gapX: 1595.5, gapY: 231.7, gl0: 1559, gl1: 1634, glY: 237.3, zeroColor: "#000", zeroW: 1, zeroDash: "4,3"},
 {mx0: 90, mx1: 580.7, my0: 549, my1: 943.3, ix0: 644.3, ix1: 804, iy0: 549, iy1: 942.3,
  xlabY: 971, titleX: 409, titleY: 1011, ylabX: 26, ylabY: 738.5, d2X: 646.7, d2Y: 969,
  gapX: 740.5, gapY: 761.7, gl0: 706.7, gl1: 782.3, glY: 767.3, zeroColor: "#000", zeroW: 1, zeroDash: "4,3"},
 {mx0: 927.3, mx1: 1418.3, my0: 545, my1: 940, ix0: 1485, ix1: 1654, iy0: 546.7, iy1: 937.3,
  xlabY: 965, titleX: 1241, titleY: 1008, ylabX: 869, ylabY: 738, d2X: 1483, d2Y: 959,
  gapX: 0, gapY: 0, gl0: 0, gl1: 0, glY: 0, zeroColor: "#8a8a8a", zeroW: 1.6, zeroDash: "5,4"}
];

const panels = [
 {kPath: kPath1, labelK: labelK1, pieces: [[gridA, p1A], [gridB, p1B], [gridC, p1C], [gridD, p1D]],
  insK: insK1, insBands: [ins1Upper, ins1Lower], insDomain: insDomain1, box: zoomBox1},
 {kPath: kPath2, labelK: labelK2, pieces: [[gridA, p2A], [gridB, p2B], [gridC, p2C], [gridD, p2D]],
  insK: insK2, insBands: [ins2Upper, ins2Lower], insDomain: insDomain2, box: zoomBox2},
 {kPath: kPath3, labelK: labelK3, pieces: [[gridA, p3A], [gridB, p3B], [gridC, p3C], [gridD, p3D]],
  insK: insK3, insBands: [ins3Upper, ins3Lower], insDomain: insDomain3, box: zoomBox3},
 {kPath: kPath4, labelK: labelK4, pieces: [[gridA, p4A], [gridB, p4B], [gridC, p4C], [gridD, p4D]],
  insK: insK4, insBands: [ins4Upper, ins4Lower], insDomain: insDomain4, box: zoomBox4}
];

// ---------------- RENDER ----------------
const BLUE = "#1a1aff";
const svg = d3.select("#chart");
const defs = svg.append("defs");

function rich(parent, str, x, y, size, sx, anchor, rot) {
  const tr = `translate(${x},${y})` + (rot ? ` rotate(${rot})` : "") + ` scale(${sx},1)`;
  const t = parent.append("text").attr("transform", tr)
    .attr("text-anchor", anchor || "start").style("font-size", size + "px");
  const parts = str.split(/(_.)/).filter(s => s.length);
  let down = false;
  parts.forEach(p => {
    if (p[0] === "_") {
      t.append("tspan").text(p.slice(1)).style("font-size", (size * 0.7) + "px").attr("dy", size * 0.3);
      down = true;
    } else {
      const s = t.append("tspan").text(p);
      if (down) { s.attr("dy", -size * 0.3); down = false; }
    }
  });
  return t;
}
const fmtE = v => (v < 0 ? "\u2212" : "") + Math.abs(v);
const fmtI = v => (v < -1e-9 ? "\u2212" : "") + Math.abs(v).toFixed(1);

panels.forEach((P, pi) => {
  const L = layouts[pi];
  const g = svg.append("g");
  const x = d3.scaleLinear().domain([0, 1]).range([L.mx0, L.mx1]);
  const uk = d3.scaleLinear().domain(d3.range(P.kPath.length)).range(P.kPath);
  const y = d3.scaleLinear().domain([-4, 6]).range([L.my1, L.my0]);
  const cid = "clipM" + pi;
  defs.append("clipPath").attr("id", cid).append("rect")
    .attr("x", L.mx0).attr("y", L.my0).attr("width", L.mx1 - L.mx0).attr("height", L.my1 - L.my0);

  // high-symmetry vertical lines
  g.append("g").selectAll("line").data(P.kPath.slice(1, -1)).enter().append("line")
    .attr("x1", d => x(d)).attr("x2", d => x(d)).attr("y1", L.my0).attr("y2", L.my1)
    .attr("stroke", "#8a8a8a").attr("stroke-width", 1.2);

  // bands
  const line = d3.line().x(d => x(uk(d[0]))).y(d => y(d[1])).curve(d3.curveMonotoneX);
  const bg = g.append("g").attr("clip-path", `url(#${cid})`);
  P.pieces.forEach(([grid, bands]) => {
    bg.selectAll(null).data(bands).enter().append("path")
      .attr("d", b => line(grid.map((u, i) => [u, b[i]])))
      .attr("fill", "none").attr("stroke", BLUE).attr("stroke-width", 1.6)
      .attr("stroke-linejoin", "round");
  });

  // Fermi level
  g.append("line").attr("x1", L.mx0).attr("x2", L.mx1).attr("y1", y(0)).attr("y2", y(0))
    .attr("stroke", L.zeroColor).attr("stroke-width", L.zeroW).attr("stroke-dasharray", L.zeroDash);

  // zoom window
  const b = P.box;
  g.append("rect").attr("x", x(uk(b[0]))).attr("y", y(b[3]))
    .attr("width", x(uk(b[1])) - x(uk(b[0]))).attr("height", y(b[2]) - y(b[3]))
    .attr("fill", "none").attr("stroke", "#ff1a1a").attr("stroke-width", 2.6);

  // axis ticks
  g.append("g").attr("transform", `translate(${L.mx0},0)`)
    .call(d3.axisLeft(y).tickValues(energyTicks).tickSize(-3).tickSizeOuter(0).tickFormat(""))
    .call(s => s.select(".domain").remove())
    .call(s => s.selectAll("line").attr("stroke", "#000").attr("stroke-width", 1));
  energyTicks.filter(v => v % 2 === 0).forEach(v => {
    rich(g, fmtE(v), L.mx0 - 8, y(v) + 6.7, 20, 1.5, "end");
  });

  // frame
  g.append("rect").attr("x", L.mx0).attr("y", L.my0).attr("width", L.mx1 - L.mx0).attr("height", L.my1 - L.my0)
    .attr("fill", "none").attr("stroke", "#000").attr("stroke-width", 1.8);

  // k labels
  kLabels.forEach((lab, i) => rich(g, lab, x(P.labelK[i]), L.xlabY, 23, 1.35, "middle"));
  rich(g, titles[pi], L.titleX, L.titleY, 30, 1.3, "middle");
  rich(g, "Energy (eV)", L.ylabX, L.ylabY, 29, 1.2, "middle", -90);

  // ---- inset ----
  const ix = d3.scaleLinear().domain(P.insDomain).range([L.ix0, L.ix1]);
  const iy = d3.scaleLinear().domain([-0.4, 0.6]).range([L.iy1, L.iy0]);
  const icid = "clipI" + pi;
  defs.append("clipPath").attr("id", icid).append("rect")
    .attr("x", L.ix0).attr("y", L.iy0).attr("width", L.ix1 - L.ix0).attr("height", L.iy1 - L.iy0);
  const ig = g.append("g");
  const iline = d3.line().x(d => ix(d[0])).y(d => iy(d[1]));
  ig.append("g").attr("clip-path", `url(#${icid})`).selectAll("path").data(P.insBands).enter().append("path")
    .attr("d", band => iline(P.insK.map((k, i) => [k, band[i]])))
    .attr("fill", "none").attr("stroke", BLUE).attr("stroke-width", 1.7);
  ig.append("line").attr("x1", L.ix0).attr("x2", L.ix1).attr("y1", iy(0)).attr("y2", iy(0))
    .attr("stroke", "#000").attr("stroke-width", 2).attr("stroke-dasharray", "7,4");
  ig.append("g").attr("transform", `translate(${L.ix0},0)`)
    .call(d3.axisLeft(iy).tickValues(insetTicks).tickSize(-3).tickSizeOuter(0).tickFormat(""))
    .call(s => s.select(".domain").remove())
    .call(s => s.selectAll("line").attr("stroke", "#000").attr("stroke-width", 1));
  insetTicks.filter(v => Math.round(v * 10) % 2 === 0).forEach(v => {
    rich(ig, fmtI(v), L.ix0 - 4, iy(v) + 6.7, 20, 1.5, "end");
  });
  ig.append("rect").attr("x", L.ix0).attr("y", L.iy0).attr("width", L.ix1 - L.ix0).attr("height", L.iy1 - L.iy0)
    .attr("fill", "none").attr("stroke", "#000").attr("stroke-width", 1.8);
  rich(ig, "D_2", L.d2X, L.d2Y, 23, 1.35, "start");
  if (gapValues[pi]) {
    rich(ig, gapValues[pi], L.gapX, L.gapY, 24, 1.2, "middle").style("fill", "#222");
    ig.append("line").attr("x1", L.gl0).attr("x2", L.gl1).attr("y1", L.glY).attr("y2", L.glY)
      .attr("stroke", "#333").attr("stroke-width", 1.5);
  }
});
</script></body></html>
